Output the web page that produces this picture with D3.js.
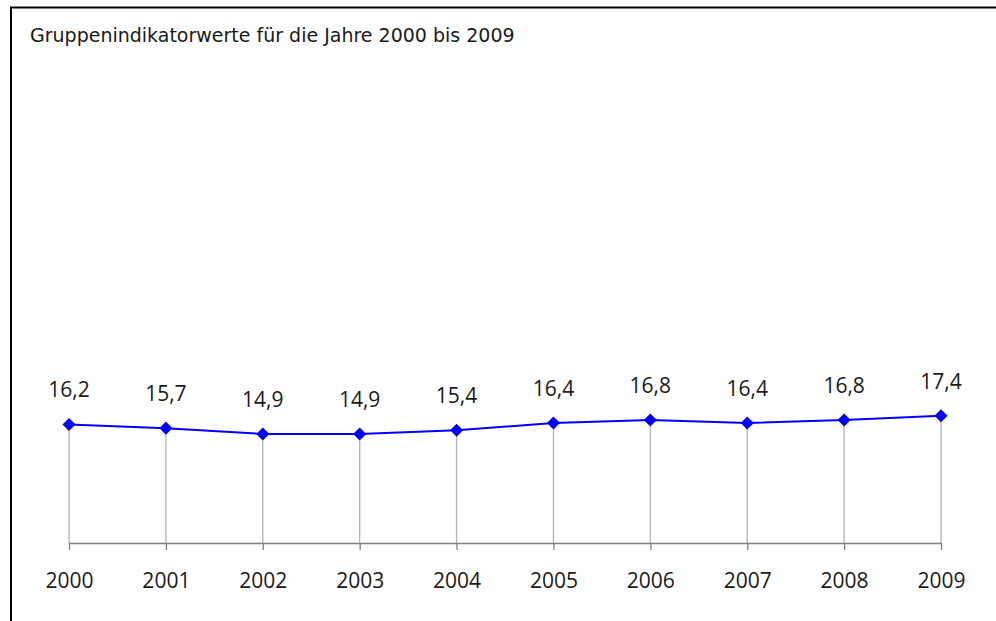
<!DOCTYPE html>
<html>
<head>
<meta charset="utf-8">
<script src="https://cdn.jsdelivr.net/npm/d3@7"></script>
<style>
    body { margin: 0; background: #fff; }
    svg { display: block; }
</style>
</head>
<body>
<div id="chart"></div>
<script>
    const title = "Gruppenindikatorwerte für die Jahre 2000 bis 2009";
    const years = ["2000", "2001", "2002", "2003", "2004", "2005", "2006", "2007", "2008", "2009"];
    const values = [16.2, 15.7, 14.9, 14.9, 15.4, 16.4, 16.8, 16.4, 16.8, 17.4];

    const width = 996, height = 621;
    const data = years.map((y, i) => ({ year: y, value: values[i] }));

    const de = d3.formatLocale({ decimal: ",", thousands: ".", grouping: [3], currency: ["", " €"] });
    const fmt = de.format(".1f");

    const svg = d3.select("#chart").append("svg")
        .attr("width", width)
        .attr("height", height);

    // frame (right and bottom edges fall outside the window)
    svg.append("rect")
        .attr("x", 11)
        .attr("y", 7.5)
        .attr("width", 1000)
        .attr("height", 700)
        .attr("fill", "none")
        .attr("stroke", "#000")
        .attr("stroke-width", 2);

    svg.append("text")
        .attr("x", 30)
        .attr("y", 42)
        .attr("font-family", "DejaVu Sans")
        .attr("font-size", 19)
        .attr("fill", "#1a1a1a")
        .text(title);

    const x = d3.scalePoint().domain(years).range([69, 941]);
    const y = d3.scaleLinear().domain([0, 60]).range([543, 104]);

    // drop lines
    svg.append("g")
        .attr("stroke", "#b3b3b3")
        .attr("stroke-width", 1.3)
        .selectAll("line")
        .data(data)
        .join("line")
        .attr("x1", d => x(d.year))
        .attr("x2", d => x(d.year))
        .attr("y1", d => y(d.value))
        .attr("y2", y(0));

    const axis = svg.append("g")
        .attr("transform", `translate(0,${y(0)})`)
        .call(d3.axisBottom(x).tickSize(7).tickSizeOuter(0));
    axis.select(".domain").attr("stroke", "#808080").attr("stroke-width", 1.3);
    axis.selectAll(".tick line").attr("stroke", "#808080").attr("stroke-width", 1.3);
    axis.selectAll(".tick text")
        .attr("y", 45)
        .attr("dy", null)
        .attr("font-family", "Open Sans")
        .attr("font-size", 21)
        .attr("fill", "#1a1a1a");

    const line = d3.line()
        .x(d => x(d.year))
        .y(d => y(d.value));

    svg.append("path")
        .datum(data)
        .attr("fill", "none")
        .attr("stroke", "#0000ff")
        .attr("stroke-width", 2)
        .attr("d", line);

    svg.append("g")
        .selectAll("path")
        .data(data)
        .join("path")
        .attr("d", d3.symbol().type(d3.symbolSquare).size(85))
        .attr("transform", d => `translate(${x(d.year)},${y(d.value)}) rotate(45)`)
        .attr("fill", "#0000ff");

    svg.append("g")
        .selectAll("text")
        .data(data)
        .join("text")
        .attr("x", d => x(d.year))
        .attr("y", d => y(d.value) - 27)
        .attr("text-anchor", "middle")
        .attr("font-family", "Open Sans")
        .attr("font-size", 21)
        .attr("fill", "#1a1a1a")
        .text(d => fmt(d.value));
</script>
</body>
</html>
